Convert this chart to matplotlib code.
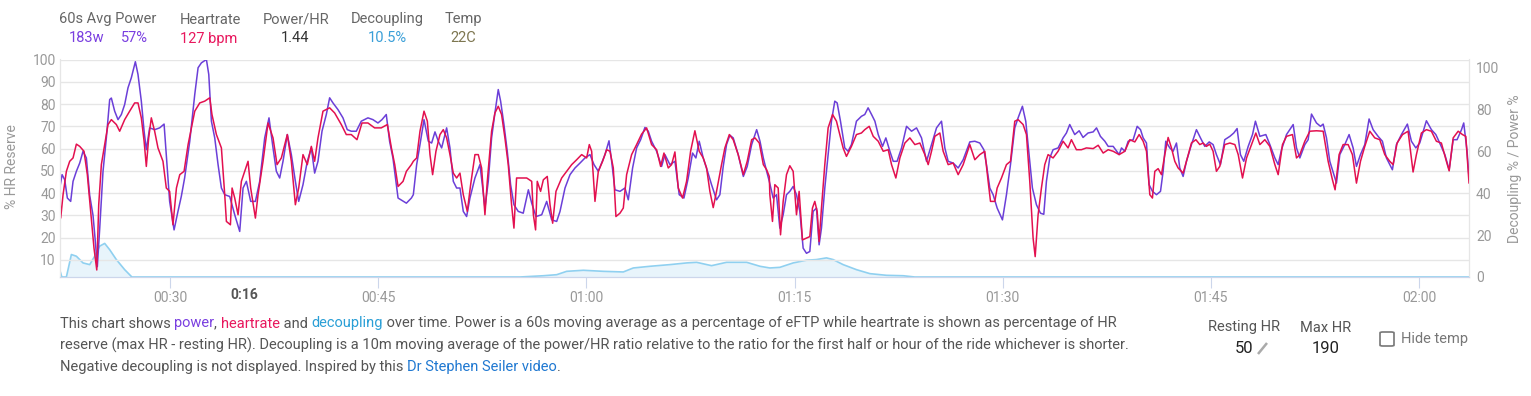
import matplotlib.pyplot as plt
from matplotlib.patches import FancyBboxPatch
from matplotlib.lines import Line2D
from matplotlib.ticker import FuncFormatter

plt.rcParams['font.family'] = ['Roboto', 'DejaVu Sans']

# minutes into the ride, 60s power as % of eFTP
power_t = [22.07, 22.22, 22.41, 22.60, 22.84, 23.01, 23.25, 23.49, 23.73, 23.97, 24.21, 24.45, 24.62, 24.76,
           24.93, 25.17, 25.41, 25.65, 25.77, 26.01, 26.25, 26.49, 26.73, 26.97, 27.21, 27.50, 27.69, 27.93,
           28.13, 28.29, 28.53, 28.89, 29.25, 29.57, 29.73, 29.97, 30.29, 30.57, 30.81, 31.05, 31.42, 31.78,
           32.02, 32.26, 32.62, 32.79, 32.98, 33.22, 33.46, 33.70, 33.94, 34.30, 34.66, 35.02, 35.26, 35.50,
           35.81, 36.15, 36.46, 36.82, 37.13, 37.42, 37.66, 37.90, 38.14, 38.45, 38.74, 39.03, 39.27, 39.58,
           39.89, 40.18, 40.42, 40.66, 40.95, 41.26, 41.50, 41.74, 42.10, 42.46, 42.77, 43.06, 43.42, 43.78,
           44.26, 44.62, 44.98, 45.27, 45.58, 45.82, 46.06, 46.43, 47.03, 47.39,
           47.53, 47.77, 48.01, 48.30, 48.61, 48.85, 49.09, 49.33, 49.57, 49.93, 50.17, 50.41, 50.65, 50.89,
           51.13, 51.37, 51.61, 51.97, 52.33, 52.53, 52.69, 52.93, 53.17, 53.41, 53.65, 53.82, 54.06, 54.30,
           54.54, 54.78, 55.09, 55.45, 55.82, 56.06, 56.37, 56.78, 57.14, 57.50, 57.86, 58.10, 58.46, 58.82,
           59.18, 59.54, 59.90, 60.26, 60.55, 60.86, 61.10, 61.34, 61.63, 61.82, 62.06, 62.42, 62.78, 63.02,
           63.33, 63.62, 63.91, 64.22, 64.46, 64.70, 65.06, 65.42, 65.66, 66.02, 66.38, 66.69, 67.03, 67.34,
           67.65, 67.89, 68.13, 68.42, 68.73, 69.02, 69.38, 69.62, 69.86, 70.10, 70.34, 70.58, 70.94, 71.31,
           71.59, 71.91, 72.27, 72.51, 72.75, 72.99, 73.18,
           73.46, 73.70, 73.94, 74.18, 74.42, 74.66, 74.90, 75.14, 75.38, 75.62, 75.86, 76.10, 76.34, 76.58,
           76.77, 76.94, 77.18, 77.42, 77.66, 77.90, 78.07, 78.31, 78.62, 78.86, 79.10, 79.46, 79.82, 80.06,
           80.30, 80.55, 80.79, 81.03, 81.34, 81.58, 81.87, 82.11, 82.39, 82.71, 83.07, 83.43, 83.79, 84.15,
           84.51, 84.87, 85.23, 85.59, 85.83, 86.07, 86.43, 86.79, 87.15, 87.63, 87.99, 88.35, 88.64, 88.83,
           89.07, 89.31, 89.60, 89.98, 90.27, 90.56, 90.87, 91.11, 91.42, 91.66, 91.90, 92.14, 92.43, 92.72,
           92.96, 93.15, 93.39, 93.63, 93.99, 94.35, 94.59, 94.83, 95.19, 95.51, 95.79, 96.15, 96.52, 96.76,
           97.04, 97.36, 97.60, 97.96, 98.39,
           98.56, 98.80, 99.04, 99.40, 99.69, 99.93, 100.12, 100.36, 100.55, 100.79, 101.08, 101.37, 101.56,
           101.75, 102.04, 102.28, 102.52, 102.76, 103.00, 103.24, 103.60, 103.96, 104.25, 104.56, 104.88,
           105.16, 105.40, 105.69, 106.00, 106.37, 106.65, 106.89, 107.13, 107.37, 107.69, 108.00, 108.21,
           108.53, 108.96, 109.25, 109.61, 109.85, 110.09, 110.45, 110.93, 111.17, 111.41, 111.77, 112.01,
           112.25, 112.61, 112.90, 113.09, 113.33, 113.57, 113.86, 114.05, 114.29, 114.65, 114.96, 115.25,
           115.49, 115.78, 116.09, 116.40, 116.69, 117.05, 117.36, 117.65, 118.08, 118.37, 118.73, 119.16,
           119.45, 119.77, 120.05, 120.53, 120.89, 121.21, 121.49, 121.86, 122.17, 122.46, 122.74, 123.06,
           123.22, 123.46, 123.60]
power_pct = [43, 48.3, 46, 37.8, 36.3, 45.3, 49.8, 53.5, 58.8, 55.8, 39, 30, 18, 7,
             24, 49.8, 64.8, 82, 82.7, 76.8, 73, 75.3, 79.8, 87.3, 91.8, 99, 93.3, 81.3,
             67.8, 59.5, 69.3, 68.5, 69.3, 71, 57.3, 36.3, 23.5, 31.8, 38.5, 46.8, 63.3, 84.3,
             96.3, 98.5, 100, 93.3, 72.3, 64.8, 52.8, 42.3, 39.3, 38.5, 30.3, 22.8, 42.3, 45.3,
             36.3, 36.3, 45.3, 64.8, 73.8, 60.3, 49.8, 46.8, 54.3, 66.3, 57.3, 45.3, 36.3, 43.8,
             54.3, 60.3, 49, 54.3, 67.8, 75.3, 82.8, 80.5, 77.5, 73.8, 68.5, 67.8, 67.8, 72.3,
             73.8, 73, 71.5, 73, 75.3, 63.3, 55.8, 37.8, 35.5, 37.8,
             39.3, 52.8, 61.8, 73, 63.3, 62.5, 67.5, 63.3, 60.3, 69.3, 60.3, 45.3, 42.3, 42.3,
             31.8, 29.5, 37.8, 46.8, 52.8, 42.3, 33.3, 45.3, 64.8, 76, 86.5, 81.3, 70.8, 58.8,
             43.8, 34.8, 31.8, 31, 41.5, 35.5, 29.5, 30.3, 36.3, 28, 27.3, 31.8, 42.3, 48.3,
             51.3, 53.5, 55.8, 57.3, 52.8, 49.8, 53.5, 57.3, 63.5, 54.3, 41.5, 40.8, 42.3, 37,
             51.3, 60.3, 64, 69.5, 67.8, 63.3, 58.8, 52, 57.3, 52.8, 54.3, 39.3, 37.8, 46.8,
             58, 55.8, 63.3, 55.8, 49.8, 43.8, 37, 39.3, 52, 61.8, 66, 64.8, 57.3, 47.5,
             52, 61.8, 68.5, 63.3, 55.8, 49.8, 45.3,
             37.8, 39.3, 24.3, 30.3, 39.3, 40.8, 43, 39.3, 31.8, 15.3, 13, 13.8, 31.8, 33.3,
             16.8, 24.3, 42.3, 57.3, 72.3, 81.3, 80.5, 72.3, 60.3, 58.8, 61.8, 72.3, 74.5, 75.3,
             78.3, 75.3, 72.3, 66.3, 61, 64.8, 58.8, 54.3, 54.3, 60.3, 70, 67.8, 69.3, 64.8,
             54.3, 61.8, 69.3, 72.3, 60.3, 54.3, 53.5, 51.3, 55, 63, 63.3, 62.5, 59.5, 52.8,
             42.3, 39.3, 33.3, 28, 39.3, 52.8, 69.3, 73.8, 79, 72.3, 57.3, 42.3, 34.8, 31,
             30.5, 45.3, 55.8, 59.5, 60.3, 64.8, 67, 70.8, 66.3, 68, 65, 67, 67.5, 69.3,
             65.5, 63.3, 61, 61, 57.3,
             60.3, 58.8, 63.3, 64, 70, 68.5, 64.8, 62.5, 43.8, 40.8, 39.3, 40.8, 49.8,
             63.3, 60.3, 58.8, 62.5, 51.3, 47.5, 54.3, 61.8, 68.5, 64.8, 61, 63,
             61.8, 57.3, 52.8, 64, 65.5, 67, 69, 57.3, 54.3, 61, 66.3, 72.3,
             65.5, 66.3, 61.8, 55.8, 52.8, 59.5, 66.3, 70.8, 60.3, 55.8, 61.8, 64,
             75.5, 71.5, 70, 71, 64.8, 54.3, 48.3, 44.5, 57.3, 61.8, 66.3, 60.3,
             52, 57.3, 61.8, 73.3, 68.5, 65.5, 63.3, 55.8, 50.5, 61.8, 66.3, 71,
             63.3, 60.3, 62.5, 72.5, 68.5, 66.3, 62.5, 57.3, 50.5, 64, 64, 68.5,
             71.5, 58.8, 47]

# minutes into the ride, heartrate as % of HR reserve
hr_t = [22.07, 22.12, 22.29, 22.53, 22.77, 23.01, 23.25, 23.49, 23.80, 24.04, 24.28, 24.52, 24.72, 24.86,
        25.05, 25.29, 25.53, 25.77, 26.13, 26.37, 26.73, 27.09, 27.45, 27.69, 27.93, 28.13, 28.29, 28.46,
        28.65, 28.89, 29.13, 29.49, 29.73, 29.97, 30.21, 30.46, 30.70, 31.01, 31.30, 31.54, 31.78, 32.14,
        32.50, 32.86, 33.02, 33.34, 33.70, 33.94, 34.06, 34.35, 34.47, 34.66, 34.90, 35.14, 35.38, 35.62,
        35.81, 36.15, 36.34, 36.70, 37.06, 37.42, 37.71, 38.02, 38.45, 38.74, 39.03, 39.27, 39.58, 39.89,
        40.18, 40.42, 40.66, 41.02, 41.50, 41.86, 42.34, 42.70, 43.06, 43.47, 43.83, 44.26, 44.74, 45.22,
        45.66, 45.95, 46.19, 46.43, 46.79, 47.03, 47.39,
        47.53, 47.77, 48.01, 48.30, 48.54, 48.73, 48.92, 49.16, 49.45, 49.69, 49.93, 50.17, 50.41, 50.65,
        50.89, 51.13, 51.42, 51.66, 51.97, 52.21, 52.45, 52.69, 52.86, 53.17, 53.41, 53.65, 53.89, 54.13,
        54.37, 54.61, 54.78, 54.97, 55.33, 55.70, 56.06, 56.18, 56.34, 56.46, 56.70, 56.90, 57.18, 57.38,
        57.57, 57.81, 58.22, 58.58, 58.94, 59.30, 59.66, 60.02, 60.21, 60.38, 60.62, 60.86, 61.17, 61.46,
        61.70, 61.94, 62.13, 62.42, 62.66, 62.90, 63.26, 63.62, 63.98, 64.34, 64.70, 65.06, 65.35, 65.59,
        65.90, 66.14, 66.38, 66.62, 66.93, 67.22, 67.51, 67.82, 68.13, 68.42, 68.66, 68.90, 69.14, 69.38,
        69.74, 69.98, 70.30, 70.58, 70.94, 71.31, 71.59, 71.91, 72.15, 72.46, 72.75, 72.99, 73.18,
        73.22, 73.41, 73.58, 73.82, 73.99, 74.18, 74.42, 74.66, 74.90, 75.14, 75.33, 75.57, 75.86, 76.10,
        76.29, 76.46, 76.63, 76.77, 76.94, 77.18, 77.42, 77.74, 78.02, 78.26, 78.50, 78.74, 79.10, 79.46,
        79.82, 80.06, 80.38, 80.67, 81.03, 81.39, 81.75, 81.99, 82.30, 82.59, 82.95, 83.31, 83.67, 84.03,
        84.39, 84.63, 84.87, 85.11, 85.47, 85.71, 86.07, 86.43, 86.79, 87.15, 87.63, 87.99, 88.35, 88.71,
        88.95, 89.12, 89.43, 89.60, 89.91, 90.27, 90.56, 90.87, 91.11, 91.47, 91.71, 91.95, 92.19, 92.34,
        92.55, 92.79, 93.03, 93.27, 93.63, 93.99, 94.35, 94.71, 94.95, 95.31, 95.67, 96.03, 96.52, 96.88,
        97.24, 97.60, 97.96, 98.39,
        98.80, 99.16, 99.52, 99.83, 100.12, 100.36, 100.60, 100.79, 100.96, 101.20, 101.44, 101.68, 101.92,
        102.16, 102.40, 102.64, 103.00, 103.24, 103.60, 103.92, 104.20, 104.44, 104.68, 104.92, 105.16,
        105.40, 105.64, 106.00, 106.37, 106.73, 106.97, 107.28, 107.57, 107.93, 108.24, 108.53, 108.89,
        109.25, 109.61, 109.85, 110.16, 110.45, 110.88, 111.17, 111.41, 111.77, 112.13, 112.61, 113.09,
        113.45, 113.76, 113.95, 114.24, 114.53, 114.89, 115.20, 115.49, 115.78, 116.09, 116.45, 116.81,
        117.17, 117.53, 117.89, 118.13, 118.42, 118.81, 119.21, 119.57, 119.81, 120.17, 120.53, 120.89,
        121.25, 121.61, 121.97, 122.17, 122.46, 122.82, 123.13, 123.37, 123.60]
hr_pct = [37.8, 28.8, 39.3, 49.8, 54.3, 55.8, 62, 61, 58.8, 48.3, 31.8, 15.3, 5.5, 34.8,
          52.8, 61.8, 70.8, 73, 70.8, 67.8, 73, 76.8, 80.5, 80.5, 73.8, 63.3, 52, 64.8,
          73.8, 67.8, 60.3, 54.3, 42.3, 40.8, 25.8, 42.3, 48.3, 49.8, 61.8, 69.3, 76.8, 80.5,
          81.3, 82.8, 75.3, 66.3, 60.3, 39.3, 27.3, 25.8, 42.3, 37.8, 30.3, 45.3, 49.8, 54.3,
          42.3, 28.8, 39.3, 54.3, 71.5, 64.8, 52.8, 55.8, 66.3, 54.3, 34.8, 42.3, 57.3, 52.8,
          61, 54.3, 64.8, 76.8, 78.3, 76, 70.8, 66.3, 66.3, 64, 71.5, 71.5, 69.3, 69.3,
          70.8, 60.3, 52.8, 43, 45.3, 49.8, 52.8,
          54.3, 55.8, 67.8, 76.8, 72.3, 57.3, 48.3, 58.8, 66.3, 68.5, 64.8, 57.3, 49, 46.8,
          49, 39.3, 31.8, 43.8, 57.3, 57.3, 51.3, 30.3, 45.3, 67.8, 76, 79, 75.3, 64.8,
          52.8, 34.8, 24.3, 46.8, 46.8, 46.8, 45.3, 30.3, 23.5, 45.3, 40.8, 46, 47.5, 34.8,
          26.5, 40.8, 46.8, 49.8, 52.8, 55, 57.3, 55.8, 61.8, 58.8, 36.3, 49.8, 54.3, 59.5,
          58.8, 51.3, 29.5, 31, 33.3, 48.3, 57.3, 61.8, 66.5, 69.3, 61.8, 59.5, 52, 58,
          51.3, 52.8, 58.5, 42.3, 37.8, 45.3, 58.8, 68, 58.8, 55.8, 51.3, 40.8, 33.5, 40.8,
          52.8, 60.3, 66.3, 64, 57.3, 48.3, 54.3, 64, 64.8, 62.5, 52.8, 50.5, 47.5,
          39.3, 27.3, 43.8, 42.3, 21.3, 36.3, 48.3, 52.3, 49.8, 30.3, 40.8, 19, 19.8, 20.5,
          33.3, 36.3, 31.8, 18.3, 33.3, 52.8, 69.3, 75.3, 72.3, 66.3, 60.3, 56.5, 61, 66.3,
          67, 68.5, 70, 65.5, 63.3, 58.8, 59.5, 52.8, 46.8, 55.8, 62.5, 64.8, 61.8, 62.5,
          57.3, 52.8, 58.8, 65.5, 67, 58.8, 52.8, 53.5, 48.3, 52.8, 61.8, 55, 57.3, 58.8,
          45.3, 36.3, 36.3, 42.3, 46.8, 52.8, 54.3, 72.3, 73, 70.8, 66.3, 45.3, 19.8, 11.5,
          30.3, 42.3, 52.8, 57.3, 55.8, 58.8, 63.3, 60.3, 64, 59.5, 59.5, 60.3, 60, 61.5,
          58, 59.5, 58.8, 57.3,
          58.8, 64, 63, 66.3, 63.3, 58.8, 39.3, 37.8, 49.8, 51, 48.3, 57.3, 65,
          60.3, 54.3, 51.3, 49, 54.3, 62.5, 64, 61.8, 62.5, 61, 62, 58.8,
          49.8, 52, 61.8, 62.5, 61.8, 57.3, 46.8, 55.8, 61.8, 67, 61.8, 64,
          61, 52.8, 48.3, 61.8, 65.5, 66.3, 55.8, 57.3, 63.3, 67.8, 68, 67.8,
          54.3, 46, 41.5, 57.3, 61.8, 61.8, 57.3, 44.5, 54.3, 61, 67.8, 64.8,
          64, 57.3, 54.3, 52.8, 62.5, 66.3, 67.8, 49.5, 57.3, 67, 68.5, 67.8,
          63.3, 62.5, 54.3, 50, 64.8, 67.8, 66.3, 65.5, 44.6]

# minutes into the ride, decoupling % (right axis)
decoup_t = [22.07, 22.20, 22.53, 22.89, 23.25, 23.73, 24.21, 24.57, 24.93, 25.29, 25.65, 26.13, 26.73,
            27.25, 55.21, 56.90, 57.86, 58.58, 59.78, 61.22, 62.66, 63.38, 64.58, 66.02, 67.22, 67.94,
            69.02, 70.10, 71.55, 72.51, 73.22, 73.94, 74.90, 75.86, 76.58, 77.30, 77.78, 78.50, 79.46,
            80.43, 81.63, 82.83, 83.67, 123.60]
decoup_pct = [3, 0, 0, 10.7, 9.9, 6.7, 5.9, 9.9, 14.7, 16, 13, 8.3, 3.5,
              0, 0, 0.6, 1.1, 2.7, 3.2, 2.7, 2.4, 4.3, 5.1, 5.9, 6.7, 7,
              5.4, 7, 7, 5.1, 4.3, 4.6, 6.7, 8, 8.3, 9.1, 8.3, 5.9, 3.5,
              1.6, 0.8, 0.6, 0, 0]

x_ticks = [30, 45, 60, 75, 90, 105, 120]
hover_t = 35.33
hover_label = '0:16'

header = [('60s Avg Power', 108), ('Heartrate', 210), ('Power/HR', 296), ('Decoupling', 387), ('Temp', 463)]
header_vals = [('183w', 87, '#7a3fe0'), ('57%', 134, '#7a3fe0'), ('127 bpm', 209, '#e8175d'),
               ('1.44', 295, '#333333'), ('10.5%', 387, '#3a9fd8'), ('22C', 463, '#7d7650')]

W, H = 1531, 396
PURPLE = '#6b3fd8'
RED = '#e3104f'
GREY = '#999999'

fig = plt.figure(figsize=(W / 100, H / 100), dpi=100)
ax = fig.add_axes([60 / W, 119 / H, 1409 / W, 217.5 / H])
ax2 = ax.twinx()
ax.set_zorder(2)
ax2.set_zorder(1)
ax.patch.set_visible(False)

ax2.fill_between(decoup_t, decoup_pct, 0, color='#e8f4fb', lw=0)
ax2.plot(decoup_t, decoup_pct, color='#8fd0f0', lw=1.2)
ax.plot(power_t, power_pct, color=PURPLE, lw=1.1)
ax.plot(hr_t, hr_pct, color=RED, lw=1.1)

ax.set_xlim(22.07, 123.6)
ax.set_ylim(2.35, 100)
ax2.set_ylim(0, 103.6)
ax.set_yticks(range(10, 101, 10))
ax2.set_yticks(range(0, 101, 20))
ax.set_xticks(x_ticks)
ax.xaxis.set_major_formatter(FuncFormatter(lambda m, p: '%02d:%02d' % (m // 60, m % 60)))
ax.grid(axis='y', color='#e6e6e6', lw=1)
ax.set_axisbelow(True)

for a in (ax, ax2):
    for side in ('top', 'left', 'right'):
        a.spines[side].set_color('#e6e6e6')
    a.spines['top'].set_visible(False)
    a.spines['bottom'].set_color('#ccd6eb')
ax.tick_params(axis='y', length=0, labelcolor=GREY, labelsize=10, pad=3)
ax2.tick_params(axis='y', length=0, labelcolor=GREY, labelsize=10, pad=5)
ax.tick_params(axis='x', length=8, color='#ccd6eb', labelcolor=GREY, labelsize=10, pad=2)

ax.set_ylabel('% HR Reserve', color=GREY, fontsize=10)
ax.yaxis.set_label_coords(-0.029, 0.506)
ax2.set_ylabel('Decoupling % / Power %', color=GREY, fontsize=10, rotation=90)
ax2.yaxis.set_label_coords(1.028, 0.5)

ax.text(hover_t, -(295 - 277) / 217.5, hover_label, transform=ax.get_xaxis_transform(),
        ha='center', va='center', fontsize=10, fontweight='bold', color='#555555')

# header
for txt, x in header:
    fig.text(x / W, 1 - 19.5 / H, txt, ha='center', va='center', fontsize=10.5, color='#666666')
for txt, x, c in header_vals:
    fig.text(x / W, 1 - 38.5 / H, txt, ha='center', va='center', fontsize=10.5, color=c)

# description paragraph
para_family = ['Roboto', 'DejaVu Sans']
lines = [
    [('This chart shows ', '#555555'), ('power', '#7a3fe0'), (', ', '#555555'), ('heartrate', '#e8175d'),
     (' and ', '#555555'), ('decoupling', '#2a9fd6'),
     (' over time. Power is a 60s moving average as a percentage of eFTP while heartrate is shown as percentage of HR',
      '#555555')],
    [('reserve (max HR - resting HR). Decoupling is a 10m moving average of the power/HR ratio relative to the '
      'ratio for the first half or hour of the ride whichever is shorter.', '#555555')],
    [('Negative decoupling is not displayed. Inspired by this ', '#555555'), ('Dr Stephen Seiler video', '#1f78d1'),
     ('.', '#555555')],
]
fig.canvas.draw()
r = fig.canvas.get_renderer()
probe = fig.text(0, 0, ''.join(s for s, c in lines[0]), fontsize=10, family=para_family)
psize = 10 * 1055 / probe.get_window_extent(renderer=r).width
probe.remove()

for y, pieces in zip([323.5, 345, 367], lines):
    x = 60
    for s, c in pieces:
        t = fig.text(x / W, 1 - y / H, s, color=c, fontsize=psize, family=para_family, va='center', ha='left')
        x += t.get_window_extent(renderer=r).width

# resting / max HR block
fig.text(1244 / W, 1 - 327.5 / H, 'Resting HR', ha='center', va='center', fontsize=psize, family=para_family,
         color='#555555')
fig.text(1326 / W, 1 - 327.5 / H, 'Max HR', ha='center', va='center', fontsize=psize, family=para_family,
         color='#555555')
fig.text(1244 / W, 1 - 348.5 / H, '50', ha='center', va='center', fontsize=12, family=para_family, color='#222222')
fig.text(1326 / W, 1 - 348.5 / H, '190', ha='center', va='center', fontsize=12, family=para_family, color='#222222')
fig.add_artist(Line2D([1258 / W, 1267 / W], [1 - 354 / H, 1 - 343 / H], color='#aaaaaa', lw=1.8,
                      solid_capstyle='butt'))
fig.add_artist(FancyBboxPatch((1380 / W, 1 - 346 / H), 14 / W, 14 / H, boxstyle='round,pad=0,rounding_size=0.002',
                              fc='white', ec='#777777', lw=1.2, transform=fig.transFigure))
fig.text(1401 / W, 1 - 338.5 / H, 'Hide temp', ha='left', va='center', fontsize=psize, family=para_family,
         color='#777777')

fig.savefig('out.png', dpi=100)
